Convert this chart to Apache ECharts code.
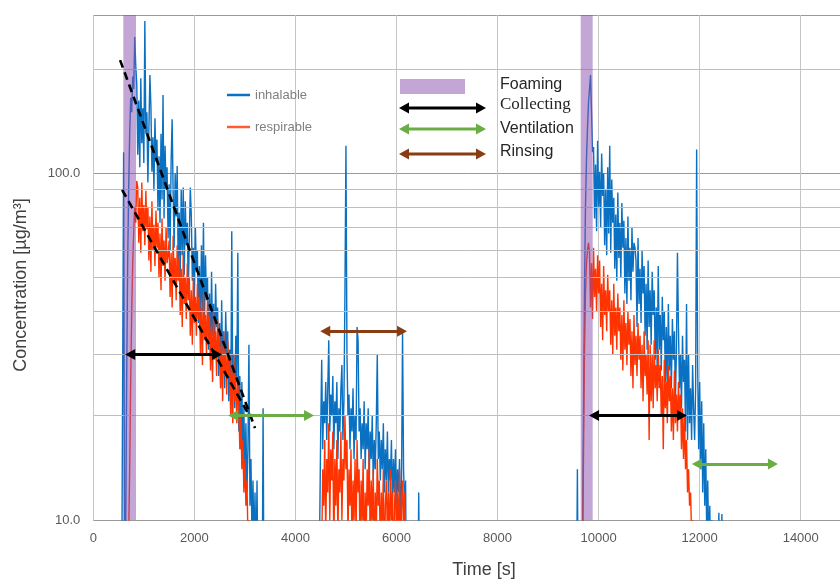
<!DOCTYPE html>
<html>
<head>
<meta charset="utf-8">
<script src="https://cdn.jsdelivr.net/npm/echarts@6/dist/echarts.min.js"></script>
<style>html,body{margin:0;padding:0;background:#fff;}#c{width:840px;height:581px;}</style>
</head>
<body>
<div id="c"></div>
<script>
// ---- data (time step 20 s inside each measured segment) ----
const STEP = 20;
const xTicks = [0, 2000, 4000, 6000, 8000, 10000, 12000, 14000, 16000];
const yLabelTicks = [10, 100];
const minorGrid = [20, 30, 40, 50, 60, 70, 80, 90, 200];

const inhalSeg1Start = 560;
const inhalSeg1 = [5,5,115,6,9,25,55,90,130,165,150,190,175,247,205,
181,113,162,104,188,122,154,107,275,130,
150,94,134,192,156,101,127,89,144,108,
125,78,112,72,130,84,168,74,120,90,
104,65,93,60,108,143,88,61,100,75,
105,54,77,50,90,58,91,51,83,62,
72,45,65,91,75,49,61,43,70,52,
60,37,54,35,62,40,72,36,58,43,
50,31,45,29,52,34,42,30,48,36,
41,26,37,24,43,28,35,24,40,30,
35,22,31,20,68,24,30,21,34,25,
59,18,26,16,25,15,21,13,19,12,
16,32,11,15,9,13,8,12,7,13,
6,9,5,6,5,21,5];

const inhalSeg2Start = 4460;
const inhalSeg2 = [5,5,18,29,16,22,19,25,17,24,
33,18,23,20,26,16,22,19,25,15,
21,18,24,28,17,22,45,120,30,20,
23,16,21,18,24,15,20,17,36,33,
18,21,15,19,16,22,14,19,16,21,
13,18,15,20,13,17,14,19,30,15,
18,13,17,14,19,12,16,13,18,12,
15,13,17,11,15,12,16,11,14,12,
15,10,13,35,14,11,13,5,5];

const inhalSpikeStart = 6420;
const inhalSpike = [5,12,5];

const inhalSeg3Start = 9560;
const inhalSeg3 = [5,14,5,5,5,6,8,20,45,80,110,135,160,175,192,150,115,
119,74,106,68,124,80,101,70,114,86,
100,62,90,58,104,67,120,59,96,72,
85,53,76,49,88,57,72,50,82,61,
73,45,65,42,75,49,61,43,70,52,
63,61,56,36,65,42,53,37,60,45,
54,34,48,31,56,36,46,32,52,39,
46,29,41,27,54,31,39,27,44,33,
40,25,36,23,42,27,34,24,38,29,
35,22,31,59,36,24,30,21,34,25,
29,18,42,17,30,19,24,17,28,21,
17,24,117,28,16,25,14,22,12,19,
11,16,9,13,8,11,7,10,6,8,
5,6,5,5,10.5,5,5,10.4,5];

const respSeg1Start = 620;
const respSeg1 = [5,5,6,7,9,14,25,40,55,68,80,72,95,
91,63,85,59,94,68,81,62,89,69,
80,56,75,52,83,60,71,54,78,61,
72,50,67,46,74,54,64,49,70,55,58,
64,44,59,41,66,48,57,43,62,49,
57,39,53,36,59,42,50,38,55,43,
50,34,46,32,51,37,44,34,48,38,
44,30,41,28,45,33,39,30,43,33,
39,27,36,25,40,29,35,26,38,30,
34,24,32,22,35,26,30,23,33,26,
30,20,28,19,30,22,26,19,25,21,
16,20,14,17,12,15,11,13,9,10,
8,9,6,5];

const respSeg2Start = 4480;
const respSeg2 = [5,6,8,14,11,17,9,15,12,19,
10,16,13,18,8,15,11,17,9,14,
12,18,10,15,13,20,14,17,9,14,
11,16,8,13,10,15,9,17,12,14,
8,13,10,15,7,12,9,14,11,16,
8,13,10,14,7,12,9,15,11,13,
8,12,9,14,7,11,13,9,12,8,
14,10,12,7,11,13,8,12,9,14,
7,11,13,9,12,5];

const respSeg3Start = 9640;
const respSeg3 = [5,5,7,15,30,45,55,60,63,
59,41,55,38,61,44,53,40,58,45,
56,36,48,33,54,39,46,35,51,40,
46,32,43,30,48,34,41,31,45,35,
41,29,39,27,43,31,37,28,40,32,
38,26,35,24,39,28,34,26,37,29,
34,24,32,22,35,26,30,23,33,17,
32,22,30,21,33,24,28,22,31,24,
28,20,26,16,29,21,25,19,28,22,
26,18,24,17,27,19,23,18,25,20,
23,16,21,15,20,14,17,12,14,11,
12,9,10,8,9,7,7,6,5,5];

// annotation phases (time in s, concentration in µg/m³)
const foamingBands = [[594, 845], [9646, 9883]];
const decayFits = [[[530, 212], [3200, 18.4]], [[570, 89.6], [3062, 20.3]]];
const collecting = [[730, 2450, 30], [9910, 11650, 20]];
const ventilation = [[2770, 4270, 20], [11945, 13450, 14.5]];
const rinsing = [[4590, 6110, 35]];

// ---- build ----
function build(segs) {
  const out = [];
  segs.forEach(([s, vals]) => vals.forEach((v, i) => out.push([s + i * STEP, v])));
  return out;
}
const inhalData = build([[inhalSeg1Start, inhalSeg1], [inhalSeg2Start, inhalSeg2], [inhalSpikeStart, inhalSpike], [inhalSeg3Start, inhalSeg3]]);
const respData = build([[respSeg1Start, respSeg1], [respSeg2Start, respSeg2], [respSeg3Start, respSeg3]]);

const BLUE = '#0a70c2', RED = '#ff3300', GREEN = '#6aad45', BROWN = '#8a3d12';
const Y_MIN = 10, Y_MAX = 286;

function arrowLines(list, color) {
  return list.map(([a, b, y]) => [
    {coord: [a, y], symbol: 'triangle', symbolSize: [11, 10], lineStyle: {color: color, width: 3, type: 'solid'}},
    {coord: [b, y], symbol: 'triangle', symbolSize: [11, 10]}
  ]);
}
const annotLines = [].concat(
  decayFits.map(([p, q]) => [
    {coord: p, symbol: 'none', lineStyle: {color: '#000', width: 2.6, type: [8, 5]}},
    {coord: q, symbol: 'none'}
  ]),
  arrowLines(collecting, '#000'),
  arrowLines(ventilation, GREEN),
  arrowLines(rinsing, BROWN)
);

const chart = echarts.init(document.getElementById('c'));

function legendArrow(x1, x2, y, color) {
  return [
    {type: 'line', shape: {x1: x1 + 6, y1: y, x2: x2 - 6, y2: y}, style: {stroke: color, lineWidth: 3}},
    {type: 'polygon', shape: {points: [[x1, y], [x1 + 10, y - 5.5], [x1 + 10, y + 5.5]]}, style: {fill: color}},
    {type: 'polygon', shape: {points: [[x2, y], [x2 - 10, y - 5.5], [x2 - 10, y + 5.5]]}, style: {fill: color}}
  ];
}
const legTxt = (t, y, font) => ({type: 'text', x: 500, y: y, style: {text: t, fill: '#262626', font: font, verticalAlign: 'middle'}});

chart.setOption({
  animation: false,
  grid: {left: 93.3, right: -61.8, top: 15, bottom: 61, containLabel: false, outerBoundsMode: 'none'},
  legend: {
    data: ['inhalable', 'respirable'], orient: 'vertical', left: 227, top: 88, padding: 0,
    icon: 'rect', itemWidth: 23, itemHeight: 2.5, itemGap: 18,
    textStyle: {color: '#808080', fontSize: 13, lineHeight: 14, fontFamily: 'Liberation Sans'}
  },
  xAxis: {
    type: 'value', min: xTicks[0], max: xTicks[xTicks.length - 1], interval: 2000,
    axisLine: {show: false}, axisTick: {show: false},
    axisLabel: {color: '#595959', fontSize: 13, margin: 12, fontFamily: 'Liberation Sans', formatter: v => String(v)},
    splitLine: {lineStyle: {color: '#c6c6c6', width: 1}}
  },
  yAxis: {
    type: 'log', logBase: 10, min: Y_MIN, max: Y_MAX,
    axisLine: {show: false}, axisTick: {show: false},
    axisLabel: {
      color: '#595959', fontSize: 13, margin: 13, fontFamily: 'Liberation Sans',
      formatter: v => yLabelTicks.some(t => Math.abs(v - t) < 1e-6 * t) ? Number(v).toFixed(1) : ''
    },
    splitLine: {lineStyle: {color: '#9a9a9a', width: 1}}
  },
  graphic: [
    {type: 'text', x: 21, y: 285, rotation: Math.PI / 2,
      style: {text: 'Concentration [µg/m³]', fill: '#404040', font: '18px "Liberation Sans"', align: 'center', verticalAlign: 'middle'}},
    {type: 'text', x: 484, y: 570,
      style: {text: 'Time [s]', fill: '#404040', font: '18px "Liberation Sans"', align: 'center', verticalAlign: 'middle'}},
    {type: 'rect', shape: {x: 400, y: 79, width: 65, height: 15}, style: {fill: '#c4a6d6'}},
    ...legendArrow(399, 486, 108, '#000'),
    ...legendArrow(399, 486, 129, GREEN),
    ...legendArrow(399, 486, 154, BROWN),
    legTxt('Foaming', 85, '16px "Liberation Sans"'),
    legTxt('Collecting', 105, '17px "Liberation Serif"'),
    legTxt('Ventilation', 129, '16px "Liberation Sans"'),
    legTxt('Rinsing', 152, '16px "Liberation Sans"')
  ],
  series: [
    {name: 'grid', type: 'line', data: [], z: 1, silent: true,
      markLine: {silent: true, symbol: 'none', label: {show: false}, animation: false,
        lineStyle: {color: '#bfbfbf', width: 1, type: 'solid'},
        data: minorGrid.map(v => ({yAxis: v}))}},
    {name: 'inhalable', type: 'line', data: inhalData, showSymbol: false, z: 2,
      lineStyle: {color: BLUE, width: 1.4}, itemStyle: {color: BLUE}},
    {name: 'respirable', type: 'line', data: respData, showSymbol: false, z: 3,
      lineStyle: {color: RED, width: 1.4}, itemStyle: {color: '#ff5a30'}},
    {name: 'annot', type: 'line', data: [], z: 6, silent: true,
      markArea: {silent: true, z: 6, itemStyle: {color: 'rgba(137,77,173,0.5)'},
        data: foamingBands.map(([a, b]) => [{xAxis: a, yAxis: Y_MIN}, {xAxis: b, yAxis: Y_MAX}])},
      markLine: {silent: true, z: 7, symbol: 'none', label: {show: false}, animation: false,
        data: annotLines}}
  ]
});
</script>
</body>
</html>
